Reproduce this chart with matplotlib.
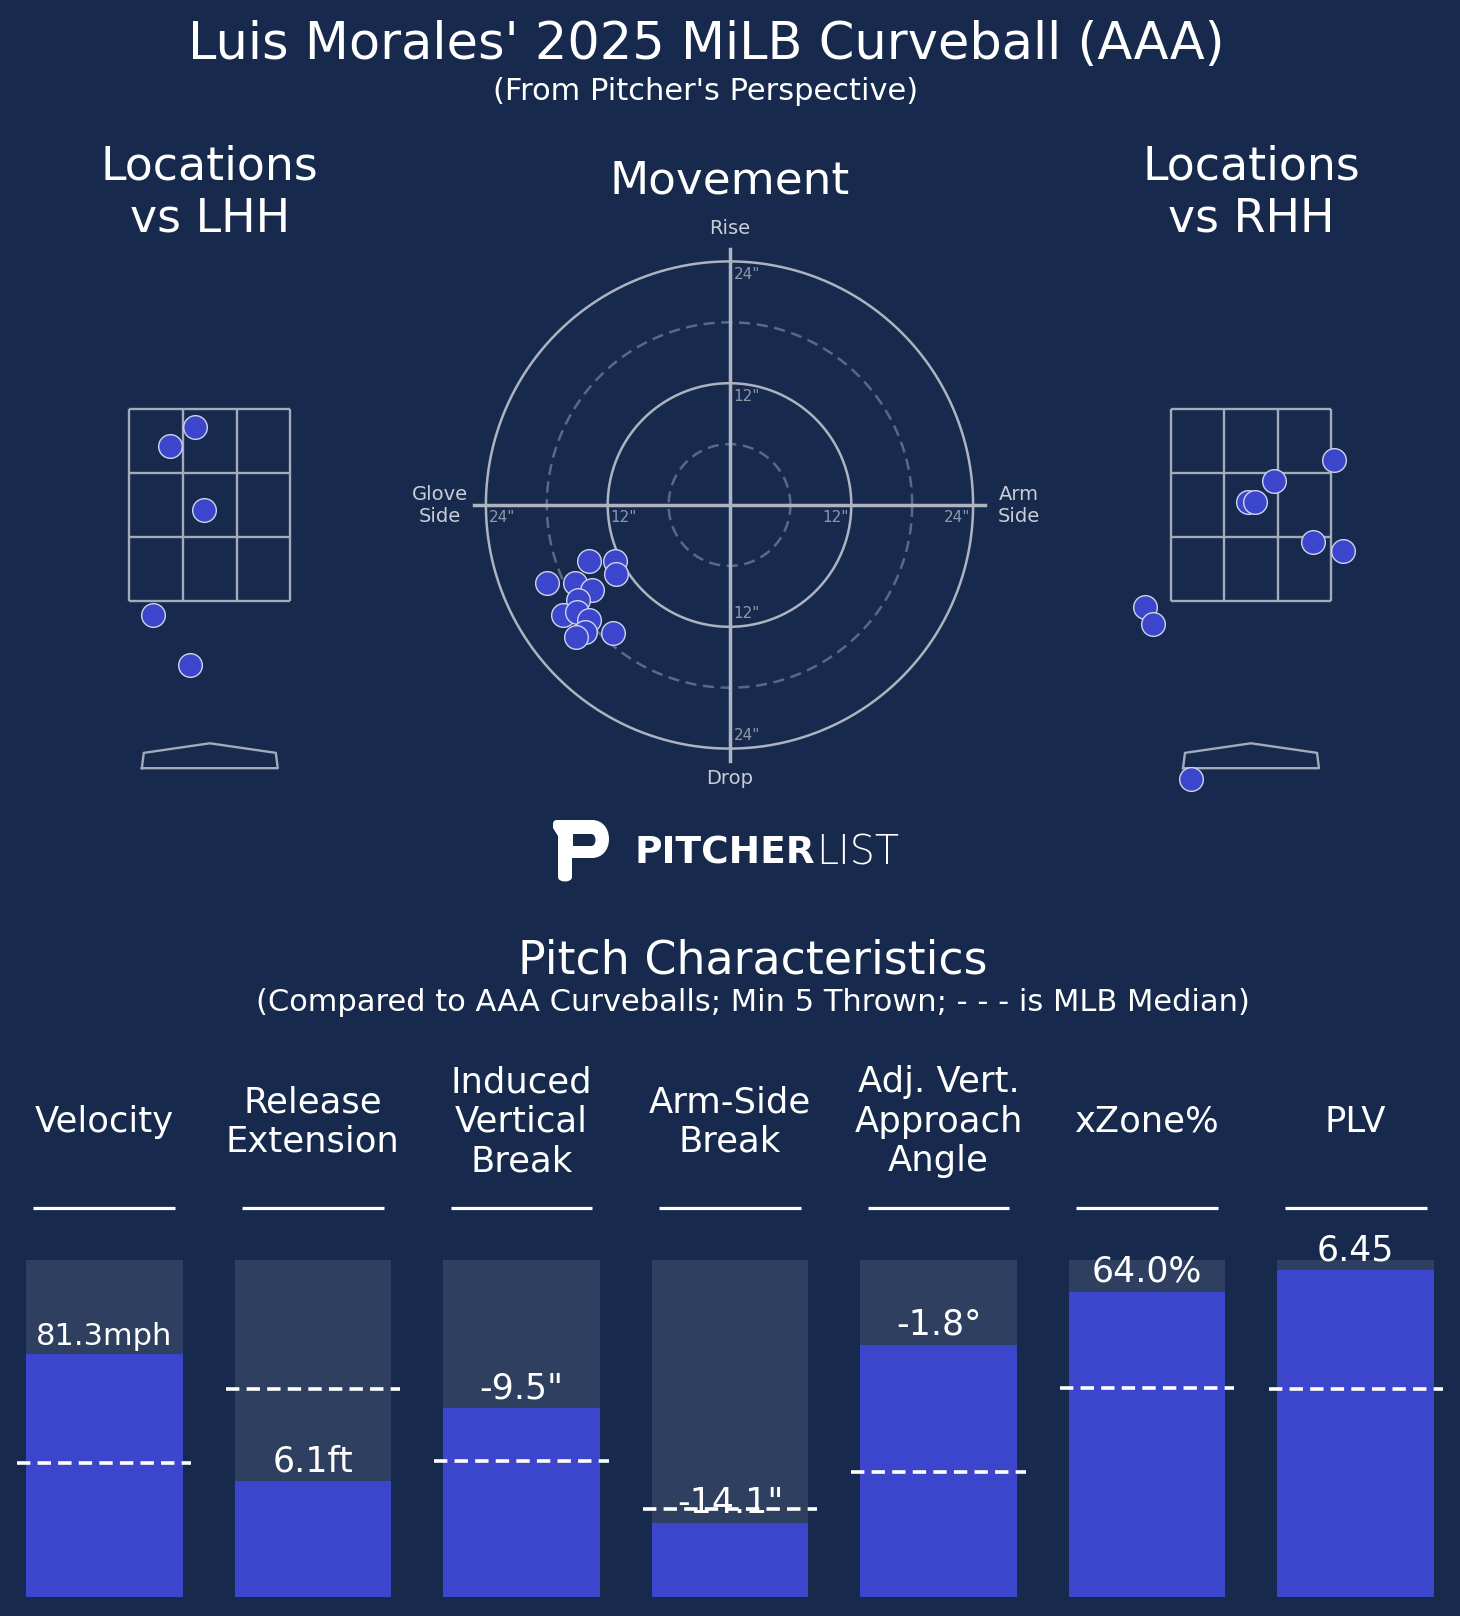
import matplotlib.pyplot as plt
import matplotlib.patches as mpatches
from matplotlib.path import Path
import numpy as np

# --- data ---
# pitch movement (inches): horizontal break, induced vertical break
mov_hb = [-13.8, -11.3, -11.2, -18.0, -15.2, -13.5, -14.9, -16.4, -15.0, -13.8, -14.2, -15.1, -11.5]
mov_ivb = [-5.5, -5.5, -6.8, -7.7, -7.7, -8.4, -9.4, -10.8, -10.5, -11.3, -12.5, -13.0, -12.6]

# plate locations (feet) vs LHH and RHH
lhh_x = [-0.155, -0.415, -0.057, -0.598, -0.204]
lhh_z = [3.32, 3.12, 2.45, 1.35, 0.83]
rhh_x = [0.870, 0.240, -0.034, 0.045, 0.651, 0.958, -1.103, -1.026, -0.622]
rhh_z = [2.967, 2.748, 2.528, 2.531, 2.113, 2.016, 1.434, 1.260, -0.363]

# pitch characteristics (bar height = percentile vs AAA curveballs)
metrics = ["Velocity", "Release\nExtension", "Induced\nVertical\nBreak", "Arm-Side\nBreak",
           "Adj. Vert.\nApproach\nAngle", "xZone%", "PLV"]
pctl = [72.1, 34.4, 56.1, 22.0, 74.9, 90.6, 96.9]
mlb_median = [39.9, 61.8, 40.4, 26.2, 37.1, 62.0, 61.8]
value_labels = ["81.3mph", "6.1ft", '-9.5"', '-14.1"', "-1.8°", "64.0%", "6.45"]

BG = "#172a4d"
BLUE = "#3c46cc"
GREY_BAR = "#2e3f5f"
LINE = "#adb3c0"
W, H = 1460, 1616

fig = plt.figure(figsize=(14.6, 16.16), dpi=100, facecolor=BG)


def px_axes(x0, x1, y0, y1):
    # axes from pixel box (y measured from top)
    return fig.add_axes([x0 / W, 1 - y1 / H, (x1 - x0) / W, (y1 - y0) / H])


# ---- movement plot ----
cx, cy, ppi = 729.5, 505, 10.15
lim = 31
ax = px_axes(cx - lim * ppi, cx + lim * ppi, cy - lim * ppi, cy + lim * ppi)
ax.set_xlim(-lim, lim)
ax.set_ylim(-lim, lim)
ax.axis("off")
t = np.linspace(0, 2 * np.pi, 400)
for r in [6, 18]:
    ax.plot(r * np.cos(t), r * np.sin(t), color="#5a6983", lw=1.8, ls=(0, (4.5, 2.6)))
for r in [12, 24]:
    ax.plot(r * np.cos(t), r * np.sin(t), color=LINE, lw=1.8)
ax.plot([-25.2, 25.2], [0, 0], color=LINE, lw=2.5)
ax.plot([0, 0], [-25.2, 25.2], color=LINE, lw=2.5)
tick_c = "#8e98ab"
for r in [12, 24]:
    ax.text(-r + 0.3, -0.5, f'{r}"', color=tick_c, fontsize=11, ha="left", va="top")
    ax.text(r - 0.3, -0.5, f'{r}"', color=tick_c, fontsize=11, ha="right", va="top")
    ax.text(0.4, r - 0.6, f'{r}"', color=tick_c, fontsize=11, ha="left", va="top")
    ax.text(0.4, -r + 0.6, f'{r}"', color=tick_c, fontsize=11, ha="left", va="bottom")
lab_c = "#c9cdd6"
ax.text(0, 27.2, "Rise", color=lab_c, fontsize=14, ha="center", va="center")
ax.text(0, -26.9, "Drop", color=lab_c, fontsize=14, ha="center", va="center")
ax.text(-28.5, 0, "Glove\nSide", color=lab_c, fontsize=14, ha="center", va="center", clip_on=False)
ax.text(28.5, 0, "Arm\nSide", color=lab_c, fontsize=14, ha="center", va="center", clip_on=False)
ax.scatter(mov_hb, mov_ivb, s=290, color=BLUE, edgecolor="#cfd3ea", linewidth=1, zorder=5)


# ---- location plots ----
def location_plot(center_x, xs, zs):
    ppf = 95.7
    zone_bot_px = 600.7
    a = px_axes(center_x - 1.5 * ppf, center_x + 1.5 * ppf,
                zone_bot_px - 2.5 * ppf, zone_bot_px + 2.1 * ppf)
    a.set_xlim(-1.5, 1.5)
    a.set_ylim(-0.6, 4.0)
    a.axis("off")
    zx = np.linspace(-0.84, 0.84, 4)
    zz = np.linspace(1.5, 3.5, 4)
    for v in zx:
        a.plot([v, v], [1.5, 3.5], color="#a3aaba", lw=1.7, solid_capstyle="butt")
    for v in zz:
        a.plot([-0.84, 0.84], [v, v], color="#a3aaba", lw=1.7, solid_capstyle="butt")
    plate_x = [-0.71, -0.69, 0, 0.69, 0.71, -0.71]
    plate_z = [-0.25, -0.09, 0.01, -0.09, -0.25, -0.25]
    a.plot(plate_x, plate_z, color="#a3aaba", lw=1.7)
    a.scatter(xs, zs, s=290, color=BLUE, edgecolor="#cfd3ea", linewidth=1, zorder=5, clip_on=False)


location_plot(209.8, lhh_x, lhh_z)
location_plot(1251, rhh_x, rhh_z)

# ---- pitch characteristic bars ----
bx = px_axes(0, W, 1260, 1597)
bx.set_xlim(-0.5, 6.5)
bx.set_ylim(0, 100)
bx.axis("off")
xs = np.arange(len(metrics))
bx.bar(xs, [100] * len(xs), width=0.75, color=GREY_BAR)
bx.bar(xs, pctl, width=0.75, color=BLUE)
bx.hlines(mlb_median, xs - 0.418, xs + 0.418, colors="white", lw=2.6, linestyles=(0, (3.7, 2.0)), zorder=4)
bx.hlines([115.4] * len(xs), xs - 0.34, xs + 0.34, colors="white", lw=2.3, clip_on=False)
for i, name in enumerate(metrics):
    bx.text(i, 141, name, color="white", fontsize=25.5, ha="center", va="center", clip_on=False)
    fs = 22 if len(value_labels[i]) > 6 else 25
    bx.text(i, pctl[i] + 0.8, value_labels[i], color="white", fontsize=fs, ha="center", va="bottom",
            clip_on=False, zorder=5)

# ---- overlay: titles and logo ----
ov = fig.add_axes([0, 0, 1, 1])
ov.set_xlim(0, W)
ov.set_ylim(H, 0)
ov.axis("off")
ov.patch.set_alpha(0)

ov.text(706, 59, "Luis Morales' 2025 MiLB Curveball (AAA)", color="white", fontsize=36.7,
        ha="center", va="baseline")
ov.text(706, 100, "(From Pitcher's Perspective)", color="white", fontsize=22, ha="center", va="baseline")
ov.text(730, 194, "Movement", color="white", fontsize=32.7, ha="center", va="baseline")
ov.text(209.8, 193, "Locations\nvs LHH", color="white", fontsize=33, ha="center", va="center")
ov.text(1251, 193, "Locations\nvs RHH", color="white", fontsize=33, ha="center", va="center")
ov.text(753, 973, "Pitch Characteristics", color="white", fontsize=33, ha="center", va="baseline")
ov.text(753, 1011, "(Compared to AAA Curveballs; Min 5 Thrown; - - - is MLB Median)", color="white",
        fontsize=22, ha="center", va="baseline")

# logo icon
verts = [(553, 824), (553, 820), (557, 820), (592, 820),
         (603, 820), (609, 829), (609, 839),
         (609, 850), (602, 858), (592, 858),
         (572, 858), (572, 877),
         (572, 883), (558, 883), (558, 877),
         (558, 836), (553, 828), (553, 824)]
codes = [Path.MOVETO, Path.CURVE3, Path.CURVE3, Path.LINETO,
         Path.CURVE4, Path.CURVE4, Path.CURVE4,
         Path.CURVE4, Path.CURVE4, Path.CURVE4,
         Path.LINETO, Path.LINETO,
         Path.CURVE4, Path.CURVE4, Path.CURVE4,
         Path.LINETO, Path.LINETO, Path.CLOSEPOLY]
ov.add_patch(mpatches.PathPatch(Path(verts, codes), facecolor="white", edgecolor="none"))
hole = [(573, 834), (591, 834), (597, 834), (597, 846), (591, 846), (573, 846), (573, 834)]
hcodes = [Path.MOVETO, Path.LINETO, Path.CURVE4, Path.CURVE4, Path.CURVE4, Path.LINETO, Path.CLOSEPOLY]
ov.add_patch(mpatches.PathPatch(Path(hole, hcodes), facecolor=BG, edgecolor="none"))
ov.text(634, 853, "PITCHER", color="white", fontsize=27, fontweight="bold", ha="left", va="center")
ov.text(816, 853, "LIST", color="white", fontsize=28.5, fontweight="light", ha="left", va="center")

fig.savefig("out.png", dpi=100, facecolor=BG)
